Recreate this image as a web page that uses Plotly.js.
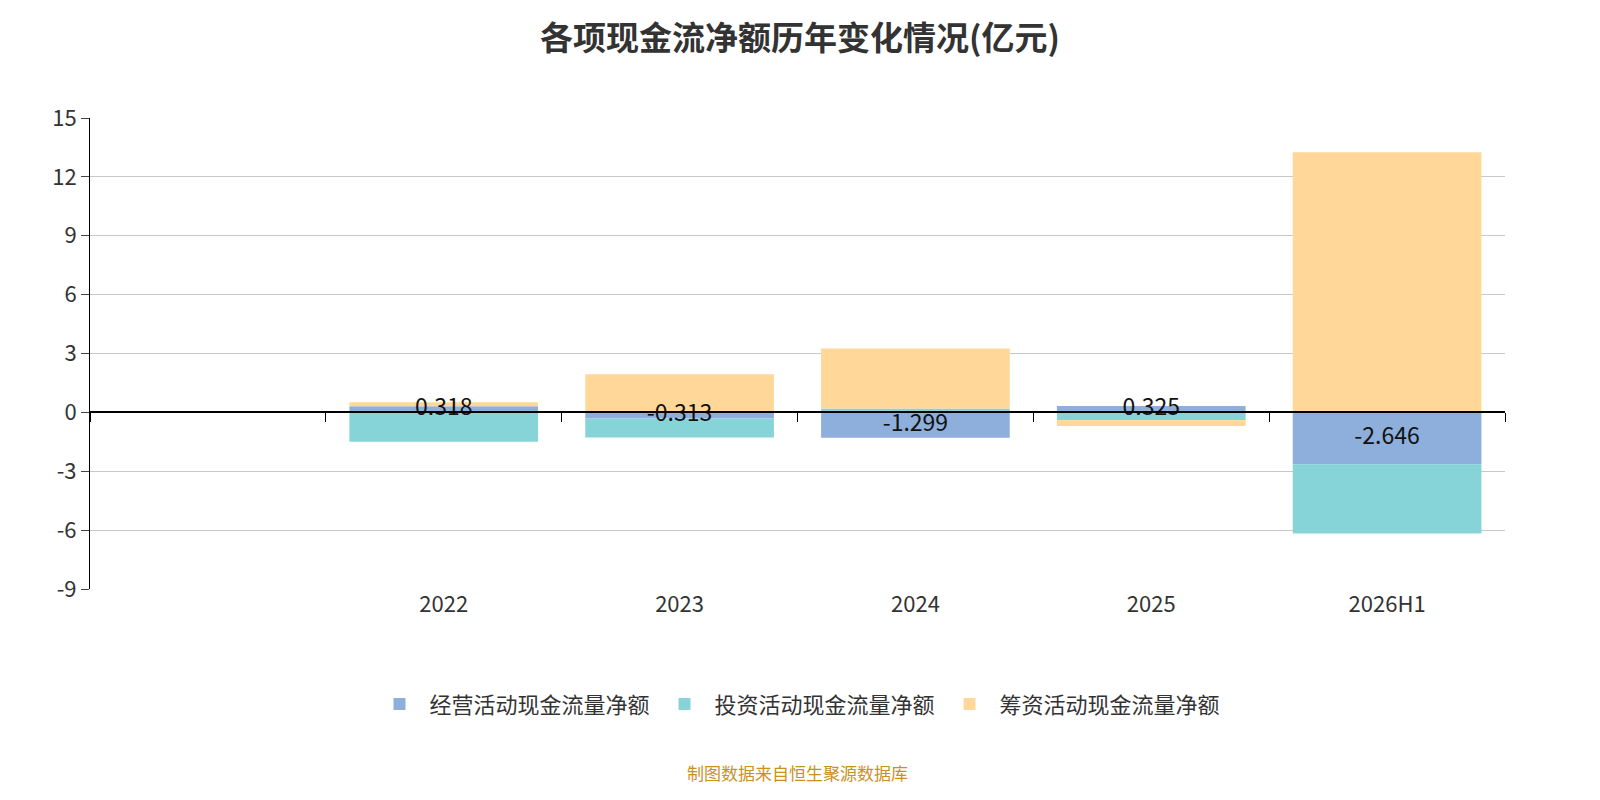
<!DOCTYPE html>
<html>
<head>
<meta charset="utf-8">
<script src="https://cdn.plot.ly/plotly-3.0.1.min.js"></script>
<style>body{margin:0}#chart{width:1600px;height:800px}</style>
</head>
<body>
<div id="chart"></div>
<script>
// 各项现金流净额 (亿元)
const years     = ['', '2022', '2023', '2024', '2025', '2026H1'];
const operating = [null, 0.318, -0.313, -1.299, 0.325, -2.646];
const investing = [null, -1.50, -0.97, 0.20, -0.40, -3.53];
const financing = [null, 0.20, 1.94, 3.06, -0.30, 13.26];
const yTicks    = [-9, -6, -3, 0, 3, 6, 9, 12, 15];

const FONT = '"Noto Sans CJK SC", "Noto Sans", sans-serif';

const bar = (y, name, color) => ({
  type: 'bar', x: years, y, name, marker: { color }, hoverinfo: 'y',
});

const traces = [
  bar(operating, '经营活动现金流量净额', '#8eaedb'),
  bar(investing, '投资活动现金流量净额', '#86d4d8'),
  bar(financing, '筹资活动现金流量净额', '#ffd899'),
  {
    type: 'scatter', mode: 'text', x: years, showlegend: false, hoverinfo: 'skip',
    y: operating.map((v) => v == null ? null : v / 2),
    text: operating.map((v) => v == null ? '' : v.toFixed(3)),
    textfont: { size: 23, color: '#111', family: FONT },
  },
  // invisible trace for the zero-line category axis
  { type: 'scatter', x: years, y: years.map(() => 0), xaxis: 'x2', mode: 'none',
    showlegend: false, hoverinfo: 'skip' },
];

const layout = {
  width: 1600, height: 800,
  margin: { l: 90, r: 95, t: 118, b: 211 },
  paper_bgcolor: '#fff', plot_bgcolor: '#fff',
  font: { family: FONT, color: '#333' },
  title: { text: '<b>各项现金流净额历年变化情况(亿元)</b>', x: 0.5, y: 0.967,
           font: { size: 33, color: '#333', family: FONT } },
  barmode: 'relative', bargap: 0.2,
  xaxis: { type: 'category', showgrid: false, zeroline: false, showline: false,
           ticks: '', tickfont: { size: 22, color: '#333' } },
  xaxis2: { type: 'category', overlaying: 'x', matches: 'x', anchor: 'free',
            position: (0 - -9) / (15 - -9), showline: true, linecolor: '#000', linewidth: 1.5,
            ticks: 'outside', tickson: 'boundaries', ticklen: 9, tickcolor: '#000',
            showticklabels: false, showgrid: false, zeroline: false },
  yaxis: { range: [-9, 15], tickvals: yTicks, ticktext: yTicks.map(String),
           showgrid: true, gridcolor: '#c8c8c8', zeroline: false,
           showline: true, linecolor: '#000', ticks: 'outside', ticklen: 8,
           tickfont: { size: 22, color: '#333' } },
  legend: { orientation: 'h', x: 0.5, xanchor: 'center', y: -0.2, yanchor: 'top',
            font: { size: 22, color: '#333' }, itemwidth: 50, itemsizing: 'constant' },
  annotations: [{
    text: '制图数据来自恒生聚源数据库', xref: 'paper', yref: 'paper',
    x: 0.5, y: -0.39, yanchor: 'middle', showarrow: false,
    font: { size: 17, color: '#c8921e', family: FONT },
  }],
};

Plotly.newPlot('chart', traces, layout, { displayModeBar: false });
</script>
</body>
</html>
